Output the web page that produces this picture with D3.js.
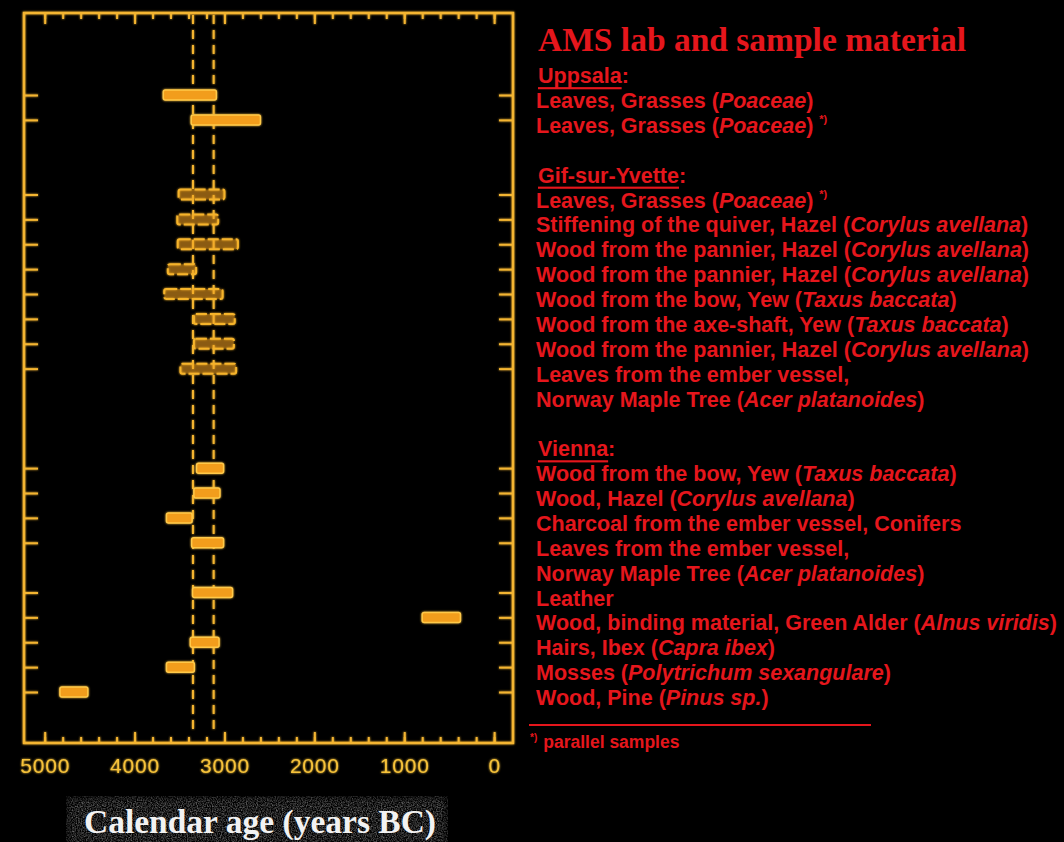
<!DOCTYPE html>
<html>
<head>
<meta charset="utf-8">
<script src="https://cdn.jsdelivr.net/npm/d3@7"></script>
<style>
  html, body { margin: 0; padding: 0; background: #000; }
  svg { display: block; }
</style>
</head>
<body>
<svg id="chart" width="1064" height="842"></svg>
<script>
// Radiocarbon (AMS) dates of the Iceman's equipment, calibrated ages in years BC
const labs = ["Uppsala", "Gif-sur-Yvette", "Vienna"];
const sampleLab = [0, 0, 1, 1, 1, 1, 1, 1, 1, 1, 2, 2, 2, 2, 2, 2, 2, 2, 2];
const sampleLead = ["", "", "", "", "", "", "", "", "", "Leaves from the ember vessel,",
  "", "", "", "Leaves from the ember vessel,", "", "", "", "", ""];
const sampleText = ["Leaves, Grasses", "Leaves, Grasses",
  "Leaves, Grasses", "Stiffening of the quiver, Hazel", "Wood from the pannier, Hazel",
  "Wood from the pannier, Hazel", "Wood from the bow, Yew", "Wood from the axe-shaft, Yew",
  "Wood from the pannier, Hazel", "Norway Maple Tree",
  "Wood from the bow, Yew", "Wood, Hazel", "Charcoal from the ember vessel, Conifers",
  "Norway Maple Tree", "Leather", "Wood, binding material, Green Alder", "Hairs, Ibex",
  "Mosses", "Wood, Pine"];
const sampleSpecies = ["Poaceae", "Poaceae",
  "Poaceae", "Corylus avellana", "Corylus avellana", "Corylus avellana", "Taxus baccata",
  "Taxus baccata", "Corylus avellana", "Acer platanoides",
  "Taxus baccata", "Corylus avellana", "", "Acer platanoides", "", "Alnus viridis",
  "Capra ibex", "Polytrichum sexangulare", "Pinus sp."];
const parallel = [false, true, true, false, false, false, false, false, false, false,
  false, false, false, false, false, false, false, false, false];
const ageFrom = [3680, 3370, 3510, 3525, 3520, 3630, 3670, 3340, 3340, 3490,
  3310, 3340, 3645, 3365, 3355, 800, 3380, 3645, 4830];
const ageTo = [3090, 2600, 3000, 3070, 2850, 3315, 3020, 2885, 2895, 2870,
  3010, 3050, 3360, 3010, 2910, 375, 3060, 3335, 4520];
const iceManRange = [3350, 3120];
const xTickLabels = [5000, 4000, 3000, 2000, 1000, 0];
const xMinorTicks = [5000, 4800, 4600, 4400, 4200, 4000, 3800, 3600, 3400, 3200, 3000,
  2800, 2600, 2400, 2200, 2000, 1800, 1600, 1400, 1200, 1000, 800, 600, 400, 200, 0];

const title = "AMS lab and sample material";
const axisTitle = "Calendar age (years BC)";
const footnote = "parallel samples";

// ---- layout ----
const svg = d3.select("#chart");
const frame = { left: 24, right: 513, top: 13, bottom: 743 };
const axisColor = "#f4b530";
const barColor = "#f29d1c";
const textColor = "#e5161c";

// Row slots: a header line for each lab, one line per sample (two for wrapped
// labels) and an empty line between labs.
const sampleSlot = [];
const headerSlot = [];
let cursor = 0;
labs.forEach((lab, li) => {
  headerSlot.push(cursor++);
  sampleLab.forEach((l, i) => {
    if (l !== li) return;
    sampleSlot[i] = cursor;
    cursor += sampleLead[i] ? 2 : 1;
  });
  cursor++;
});

const x = d3.scaleLinear().domain([5230, -210]).range([frame.left, frame.right]);
const y = d3.scaleLinear().domain([1, 25]).range([95, 692]);

const defs = svg.append("defs");
const glow = defs.append("filter").attr("id", "glow")
  .attr("x", "-20%").attr("y", "-20%").attr("width", "140%").attr("height", "140%");
glow.append("feGaussianBlur").attr("in", "SourceGraphic").attr("stdDeviation", 1.3).attr("result", "b");
const gm = glow.append("feMerge");
gm.append("feMergeNode").attr("in", "b");
gm.append("feMergeNode").attr("in", "SourceGraphic");

const noise = defs.append("filter").attr("id", "grain")
  .attr("x", 0).attr("y", 0).attr("width", "100%").attr("height", "100%");
noise.append("feTurbulence").attr("type", "fractalNoise").attr("baseFrequency", 0.8)
  .attr("numOctaves", 2).attr("seed", 3).attr("result", "n");
noise.append("feColorMatrix").attr("in", "n").attr("type", "matrix")
  .attr("values", "0 0 0 0 0.22  0 0 0 0 0.22  0 0 0 0 0.22  1.6 0 0 0 -0.55").attr("result", "g");
noise.append("feGaussianBlur").attr("in", "SourceAlpha").attr("stdDeviation", 4).attr("result", "soft");
noise.append("feComposite").attr("in", "g").attr("in2", "soft").attr("operator", "in");

svg.append("rect").attr("width", 1064).attr("height", 842).attr("fill", "#000");

const plot = svg.append("g").attr("filter", "url(#glow)");

// frame
plot.append("rect")
  .attr("x", frame.left).attr("y", frame.top)
  .attr("width", frame.right - frame.left).attr("height", frame.bottom - frame.top)
  .attr("fill", "none").attr("stroke", axisColor).attr("stroke-width", 2.5);

function styleAxis(g) {
  g.select(".domain").remove();
  g.selectAll(".tick line").attr("stroke", axisColor).attr("stroke-width", 2);
}

// bottom axis: minor ticks, then labelled major ticks
plot.append("g").attr("transform", `translate(0,${frame.bottom})`)
  .call(d3.axisBottom(x).tickValues(xMinorTicks).tickSize(-6).tickFormat(""))
  .call(styleAxis);
const bottom = plot.append("g").attr("transform", `translate(0,${frame.bottom})`)
  .call(d3.axisBottom(x).tickValues(xTickLabels).tickSize(-11).tickPadding(15).tickFormat(d3.format("d")))
  .call(styleAxis);
bottom.selectAll(".tick text")
  .attr("fill", "#f6c23a").attr("font-family", "Liberation Sans, Arial, sans-serif")
  .attr("font-size", 21).attr("letter-spacing", 0.8);

// top axis
plot.append("g").attr("transform", `translate(0,${frame.top})`)
  .call(d3.axisTop(x).tickValues(xMinorTicks).tickSize(-6).tickFormat(""))
  .call(styleAxis);
plot.append("g").attr("transform", `translate(0,${frame.top})`)
  .call(d3.axisTop(x).tickValues(xTickLabels).tickSize(-11).tickFormat(""))
  .call(styleAxis);

// sample ticks on both sides
const slots = sampleSlot.slice();
plot.append("g").attr("transform", `translate(${frame.left},0)`)
  .call(d3.axisLeft(y).tickValues(slots).tickSize(-14).tickFormat(""))
  .call(styleAxis);
plot.append("g").attr("transform", `translate(${frame.right},0)`)
  .call(d3.axisRight(y).tickValues(slots).tickSize(-14).tickFormat(""))
  .call(styleAxis);

// calibrated range of the Iceman
plot.selectAll("line.range").data(iceManRange).join("line")
  .attr("class", "range")
  .attr("x1", d => x(d)).attr("x2", d => x(d))
  .attr("y1", frame.top + 2).attr("y2", frame.bottom - 8)
  .attr("stroke", axisColor).attr("stroke-width", 2)
  .attr("stroke-dasharray", "9,6");

// date ranges
const samples = d3.range(sampleLab.length);
const barH = 10;
plot.selectAll("rect.bar").data(samples).join("rect")
  .attr("class", "bar")
  .attr("x", i => x(ageFrom[i]))
  .attr("width", i => x(ageTo[i]) - x(ageFrom[i]))
  .attr("y", i => y(sampleSlot[i]) - barH / 2)
  .attr("height", barH)
  .attr("rx", 2)
  .attr("fill", i => sampleLab[i] === 1 ? "rgba(242,157,28,0.35)" : barColor)
  .attr("stroke", i => sampleLab[i] === 1 ? "#f6b42c" : "#ffc948")
  .attr("stroke-width", i => sampleLab[i] === 1 ? 2 : 1.5)
  .attr("stroke-dasharray", i => sampleLab[i] === 1 ? "11,3" : null);

// ---- legend text ----
const txt = svg.append("g").attr("fill", textColor)
  .attr("font-family", "Liberation Sans, Arial, sans-serif")
  .attr("font-weight", "bold").attr("font-size", 21.5);
const tx = 536;
const rowY = s => y(s) + 6;

svg.append("text").attr("x", 538).attr("y", 51)
  .attr("fill", textColor).attr("font-family", "Liberation Serif, Times New Roman, serif")
  .attr("font-weight", "bold").attr("font-size", 33.5)
  .text(title);

labs.forEach((lab, li) => {
  const t = txt.append("text").attr("x", tx + 2).attr("y", rowY(headerSlot[li]))
    .attr("dominant-baseline", "central");
  t.append("tspan").attr("text-decoration", "underline").text(lab);
  t.append("tspan").text(":");
});

samples.forEach(i => {
  let s = sampleSlot[i];
  if (sampleLead[i]) {
    txt.append("text").attr("x", tx).attr("y", rowY(s)).attr("dominant-baseline", "central")
      .text(sampleLead[i]);
    s += 1;
  }
  const t = txt.append("text").attr("x", tx).attr("y", rowY(s)).attr("dominant-baseline", "central");
  if (sampleSpecies[i]) {
    t.append("tspan").text(sampleText[i] + " (");
    t.append("tspan").attr("font-style", "italic").text(sampleSpecies[i]);
    t.append("tspan").text(")");
  } else {
    t.append("tspan").text(sampleText[i]);
  }
  if (parallel[i]) {
    t.append("tspan").attr("dx", 6).attr("dy", -7).attr("font-size", 11).text("*)");
  }
});

// footnote
svg.append("line").attr("x1", 529).attr("x2", 871).attr("y1", 725).attr("y2", 725)
  .attr("stroke", textColor).attr("stroke-width", 2);
const fn = txt.append("text").attr("x", 530).attr("y", 742).attr("dominant-baseline", "central")
  .attr("font-size", 17.5);
fn.append("tspan").attr("font-size", 10).attr("dy", -5).text("*)");
fn.append("tspan").attr("dx", 6).attr("dy", 5).text(footnote);

// axis title on a grainy backdrop
svg.append("rect").attr("x", 66).attr("y", 796).attr("width", 382).attr("height", 50)
  .attr("fill", "#fff").attr("filter", "url(#grain)");
svg.append("text").attr("x", 260).attr("y", 821)
  .attr("text-anchor", "middle").attr("dominant-baseline", "central")
  .attr("fill", "#f2f2f2").attr("font-family", "Liberation Serif, Times New Roman, serif")
  .attr("font-weight", "bold").attr("font-size", 33.5)
  .text(axisTitle);
</script>
</body>
</html>
